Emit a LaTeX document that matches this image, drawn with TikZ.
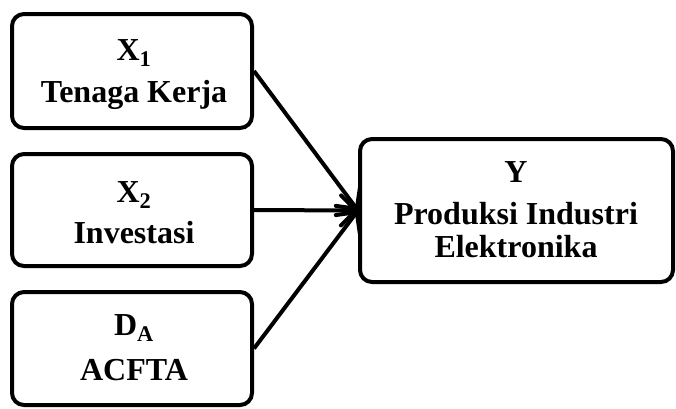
\documentclass[tikz,border=0pt]{standalone}
\usepackage{fontspec}
\setmainfont{Liberation Serif}
\usetikzlibrary{arrows.meta}
\begin{document}
\begin{tikzpicture}[x=1pt,y=-1pt,
  box/.style={draw=black, line width=4pt, rounded corners=12pt, inner sep=0pt},
  txt/.style={anchor=base, inner sep=0pt, font=\fontsize{32}{33}\selectfont\bfseries},
  conn/.style={line width=4pt, -{Straight Barb[length=15pt,width=30pt,round]}}]
\useasboundingbox (0,0) rectangle (676,408);
\node[box, minimum width=240pt, minimum height=114pt] (x1) at (132,71) {};
\node[box, minimum width=240pt, minimum height=112pt] (x2) at (132,210) {};
\node[box, minimum width=240pt, minimum height=113pt] (da) at (132,348.5) {};
\node[box, minimum width=313pt, minimum height=143pt] (y) at (516.5,210.5) {};
\node[txt] (x1a) at (134,60) {X\textsubscript{1}};
\node[txt] (x1b) at (134,102) {Tenaga Kerja};
\node[txt] (x2a) at (134,202) {X\textsubscript{2}};
\node[txt] (x2b) at (134,243) {Investasi};
\node[txt] (daa) at (134,335) {D\textsubscript{A}};
\node[txt] (dab) at (134,380) {ACFTA};
\node[txt] (ya) at (516,182) {Y};
\node[txt] (yb) at (516,224) {Produksi Industri};
\node[txt] (yc) at (516,257) {Elektronika};
\coordinate (tip) at (y.west);
\draw[conn] (x1.east) -- (tip);
\draw[conn] (x2.east) -- (tip);
\draw[conn] (da.east) -- (tip);
\end{tikzpicture}
\end{document}
